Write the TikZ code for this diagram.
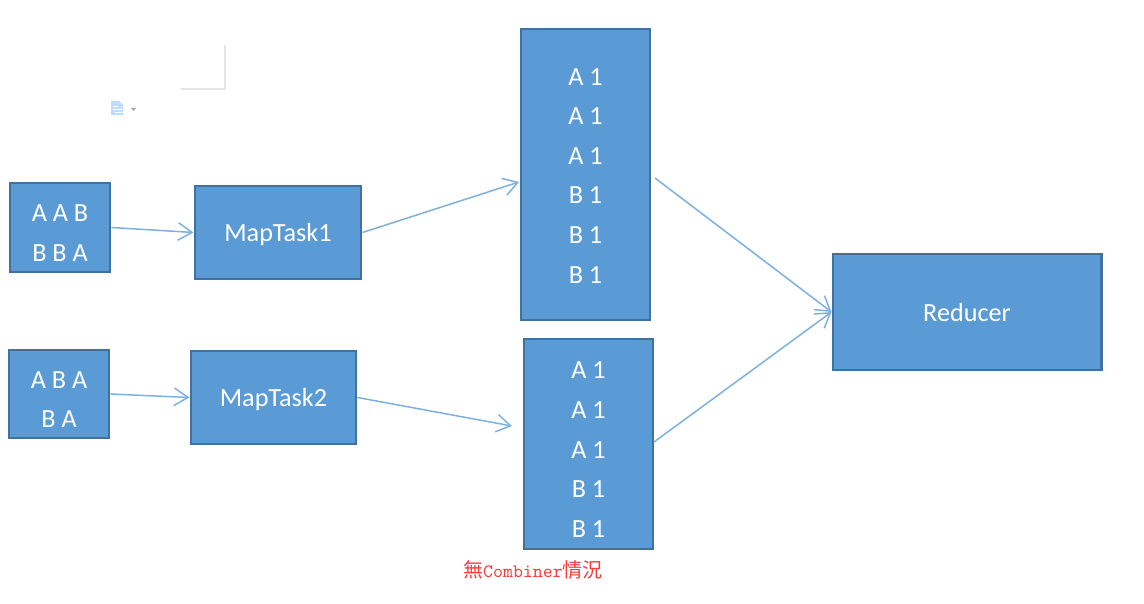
\documentclass[tikz,border=0pt]{standalone}
\usepackage{fontspec}
\setmainfont{Carlito}
\newfontfamily\capcjk{Noto Sans CJK TC}
\usetikzlibrary{arrows.meta}
\definecolor{boxfill}{HTML}{5B9BD5}
\definecolor{boxline}{HTML}{41719C}
\definecolor{flowline}{HTML}{7DB0E0}
\definecolor{capred}{HTML}{F83A3A}
\newcommand{\linedrop}[1]{\rule{0pt}{#1}}
\tikzset{
    box/.style={draw=boxline, fill=boxfill, line width=1.7pt, text=white, align=center, inner sep=0pt,
        font=\fontsize{14.9}{22.5}\selectfont},
    flow/.style={draw=flowline, line width=0.85pt, -{Straight Barb[length=8pt, width=10pt, line width=0.85pt]}}
}

\begin{document}
\begin{tikzpicture}
    \useasboundingbox (0,0) rectangle (22.88,12.06);
    % leftover page corner and icon
    \draw[gray!20, line width=0.6pt] (3.62,10.28) -- (4.50,10.28) -- (4.50,11.16);
    \fill[blue!55!cyan!25] (2.22,10.04) -- (2.38,10.04) -- (2.46,9.96) -- (2.46,9.76) -- (2.22,9.76) -- cycle;
    \draw[white, line width=0.4pt] (2.25,9.94) -- (2.36,9.94) (2.25,9.87) -- (2.43,9.87) (2.30,9.81) -- (2.43,9.81);
    \fill[gray!70] (2.62,9.90) -- (2.72,9.90) -- (2.67,9.84) -- cycle;

    \node[box, minimum width=2.00cm, minimum height=1.78cm] (in1) at (1.20,7.51) {\linedrop{16pt}A A B\\B B A};
    \node[box, minimum width=2.00cm, minimum height=1.76cm] (in2) at (1.18,4.18) {\linedrop{16pt}A B A\\B A};
    \node[box, minimum width=3.32cm, minimum height=1.86cm] (map1) at (5.56,7.41) {\linedrop{13pt}MapTask1};
    \node[box, minimum width=3.30cm, minimum height=1.86cm] (map2) at (5.47,4.11) {\linedrop{13pt}MapTask2};
    \node[box, minimum width=2.58cm, minimum height=5.82cm] (out1) at (11.71,8.57) {\linedrop{11pt}A 1\\A 1\\A 1\\B 1\\B 1\\B 1};
    \node[box, minimum width=2.58cm, minimum height=4.20cm] (out2) at (11.77,3.18) {\linedrop{16pt}A 1\\A 1\\A 1\\B 1\\B 1};
    \node[box, minimum width=5.36cm, minimum height=2.32cm] (red) at (19.34,5.82) {\linedrop{11pt}Reducer};

    % free ends of the arrows
    \coordinate (out1in) at (10.38,8.42);
    \coordinate (out2in) at (10.24,3.54);
    \coordinate (out1out) at (13.10,8.50);
    \coordinate (out2out) at (13.08,3.22);

    \draw[flow] (in1.east) -- (map1.west);
    \draw[flow] (in2.east) -- (map2.west);
    \draw[flow] (map1.east) -- (out1in);
    \draw[flow] (map2.east) -- (out2in);
    \draw[flow] (out1out) -- (red.west);
    \draw[flow] (out2out) -- (red.west);

    \node[text=capred, inner sep=0pt] (caption) at (10.66,0.66)
        {{\capcjk\fontsize{11.4}{12}\selectfont 無}{\ttfamily\fontsize{10.8}{12}\selectfont Combiner}{\capcjk\fontsize{11.4}{12}\selectfont 情況}};
\end{tikzpicture}
\end{document}
